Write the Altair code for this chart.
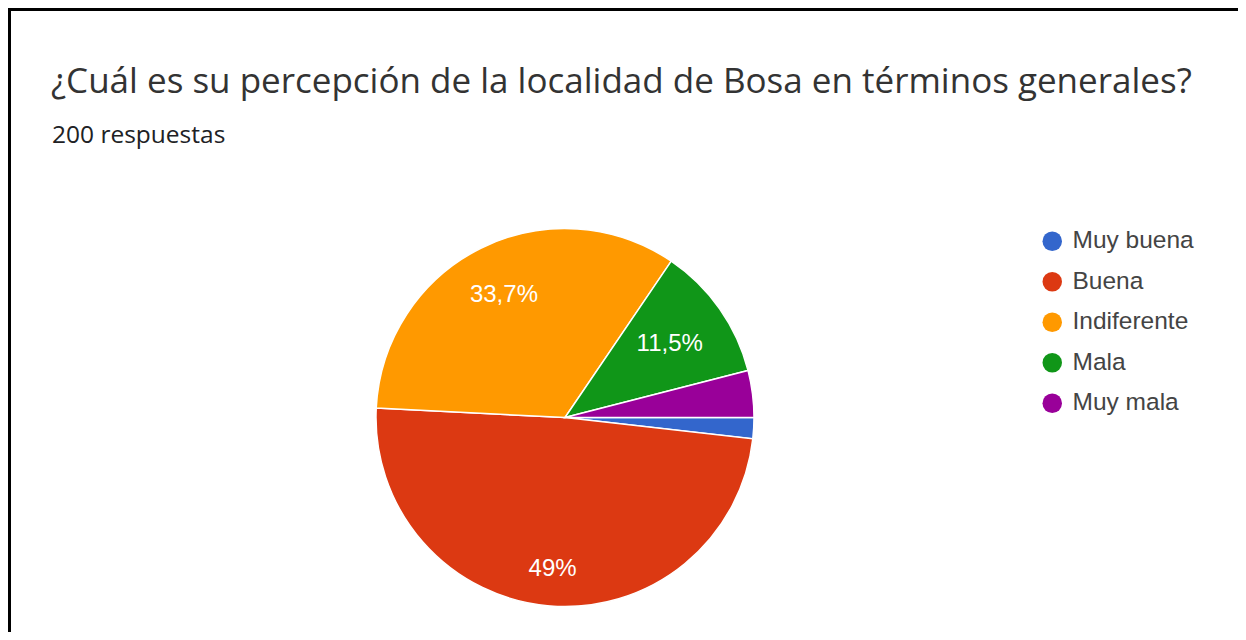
import math
import altair as alt
import pandas as pd

# ---- data ----
categories = ["Muy buena", "Buena", "Indiferente", "Mala", "Muy mala"]
values = [1.8, 49.0, 33.7, 11.5, 4.0]
labels = ["", "49%", "33,7%", "11,5%", ""]
colors = ["#3366CC", "#DC3912", "#FF9900", "#109618", "#990099"]
title_text = "¿Cuál es su percepción de la localidad de Bosa en términos generales?"
subtitle_text = "200 respuestas"

df = pd.DataFrame({
    "categoria": categories,
    "valor": values,
    "etiqueta": labels,
    "orden": list(range(len(categories))),
})

# ---- layout ----
W, H = 1230, 624
CX, CY, R = 557, 409.5, 189
label_radius = {"Buena": 152, "Indiferente": 137, "Mala": 128}

base = alt.Chart(df).encode(
    theta=alt.Theta("valor:Q", stack=True,
                    scale=alt.Scale(range=[math.pi / 2, math.pi / 2 + 2 * math.pi])),
    order=alt.Order("orden:Q"),
)

pie = base.mark_arc(outerRadius=R, stroke="white", strokeWidth=1.5).encode(
    color=alt.Color(
        "categoria:N",
        scale=alt.Scale(domain=categories, range=colors),
        sort=categories,
        legend=alt.Legend(
            title=None, orient="none", legendX=1032, legendY=221,
            symbolType="circle", symbolSize=380, symbolStrokeWidth=0,
            labelFontSize=24.5, labelFont="Liberation Sans", labelColor="#444444",
            rowPadding=15.5, labelOffset=8, symbolOpacity=1,
        ),
    ),
    x=alt.value(CX),
    y=alt.value(CY),
)

text_layers = []
for cat, r in label_radius.items():
    t = base.transform_calculate(
        t=f"datum.categoria == '{cat}' ? datum.etiqueta : ''"
    ).mark_text(radius=r, fontSize=24, font="Liberation Sans", color="white").encode(
        text="t:N", x=alt.value(CX), y=alt.value(CY)
    )
    text_layers.append(t)

title = alt.Chart(pd.DataFrame({"t": [title_text]})).mark_text(
    align="left", baseline="alphabetic", font="Open Sans", fontSize=35, color="#333333"
).encode(text="t:N", x=alt.value(43), y=alt.value(85))

subtitle = alt.Chart(pd.DataFrame({"t": [subtitle_text]})).mark_text(
    align="left", baseline="alphabetic", font="Open Sans", fontSize=24.5, color="#202124"
).encode(text="t:N", x=alt.value(44), y=alt.value(135))

one = pd.DataFrame({"a": [0]})
top_border = alt.Chart(one).mark_rule(color="black", strokeWidth=3).encode(
    x=alt.value(0), x2=alt.value(W), y=alt.value(1.5)
)
left_border = alt.Chart(one).mark_rule(color="black", strokeWidth=3).encode(
    x=alt.value(1.5), y=alt.value(0), y2=alt.value(H)
)

chart = alt.layer(pie, *text_layers, title, subtitle, top_border, left_border).properties(
    width=W, height=H, autosize=alt.AutoSizeParams(type="none"), padding=0
).configure_view(stroke=None)

chart.save("out.html", embed_options={"renderer": "svg", "actions": False})
